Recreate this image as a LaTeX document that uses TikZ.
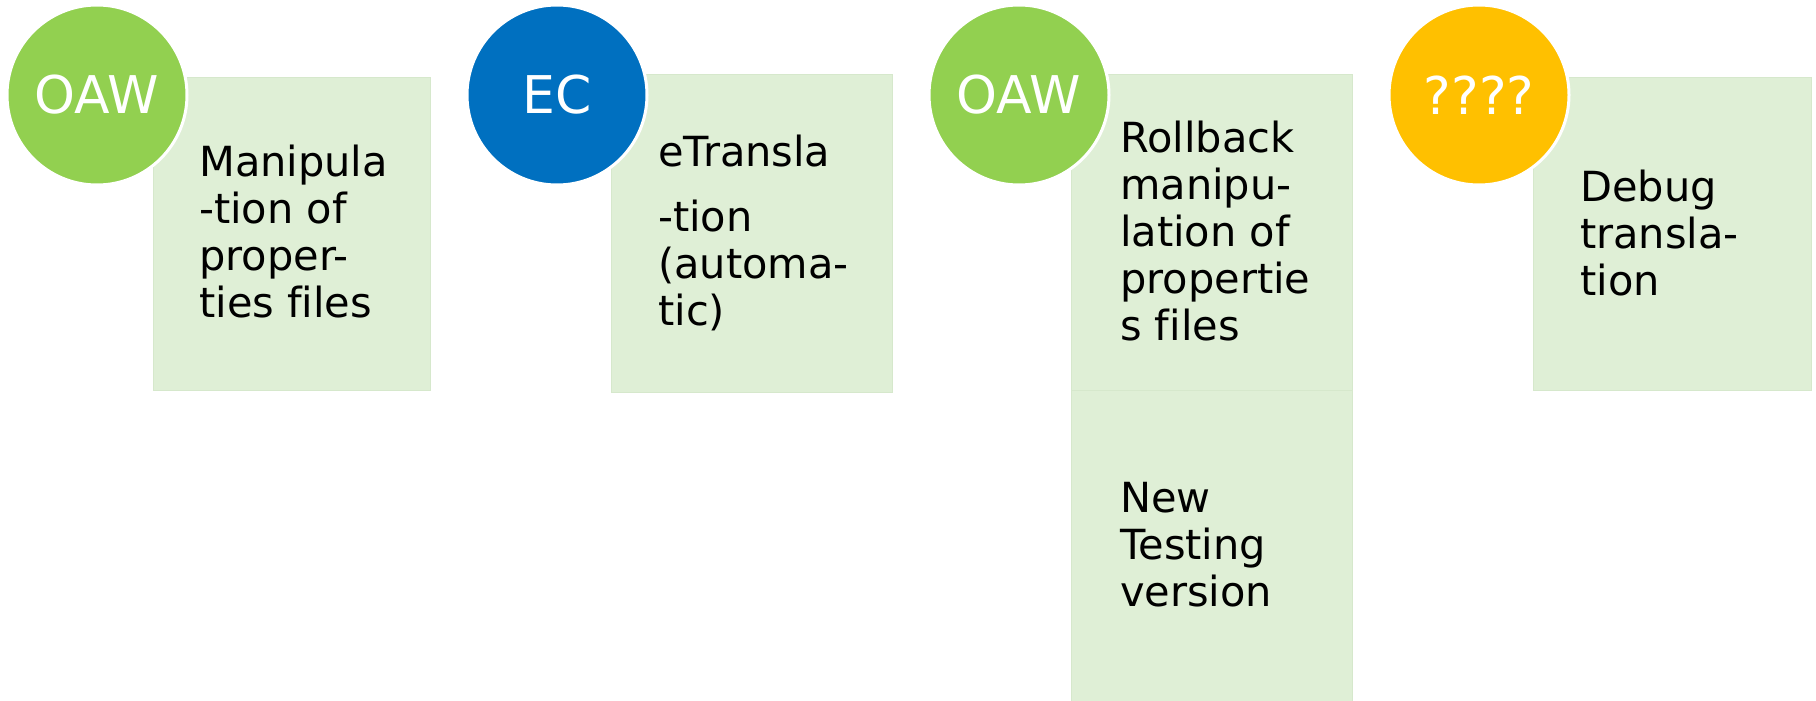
\documentclass[tikz,border=0pt]{standalone}
\usepackage{fontspec}
\setmainfont{DejaVu Sans}[Ligatures=NoCommon]
\usetikzlibrary{positioning}
\definecolor{oawgreen}{RGB}{146,208,80}
\definecolor{ecblue}{RGB}{0,112,192}
\definecolor{gold}{RGB}{255,192,0}
\definecolor{boxgreen}{RGB}{223,239,214}
\definecolor{boxedge}{RGB}{214,232,204}
\tikzset{
  badge/.style={
    circle, draw=white, line width=3pt, minimum size=180pt,
    inner sep=0pt, text=white, font=\fontsize{52}{60}\selectfont
  },
  panel/.style={fill=boxgreen, draw=boxedge, line width=0.8pt},
  blurb/.style={
    anchor=base west, align=left, inner sep=0pt,
    font=\fontsize{41.5}{47}\selectfont
  },
}
\begin{document}
\begin{tikzpicture}[x=1pt, y=-1pt]
  \useasboundingbox (0,0) rectangle (1816,701);

  % boxes behind the badges
  \path[panel] (153,77) rectangle (430,390);
  \path[panel] (611,74) rectangle (892,392);
  \path[panel] (1071,74) rectangle (1352,390);
  \path[panel] (1071,390) rectangle (1352,701);
  \path[panel] (1533,77) rectangle (1811,390);

  % text sits on the baseline of its last line
  \node[blurb] (manip) at (199,317) {Manipula\\-tion of\\proper-\\ties files};
  \node[blurb] (etrans) at (658,325) {eTransla\\[18pt]-tion\\(automa-\\tic)};
  \node[blurb] (rollback) at (1120,340) {Rollback\\manipu-\\lation of\\propertie\\s files};
  \node[blurb] (testing) at (1120,606) {New\\Testing\\version};
  \node[blurb] (debug) at (1580,295) {Debug\\transla-\\tion};

  \node[badge, fill=oawgreen] (oaw1) at (97,95) {OAW};
  \node[badge, fill=ecblue] (ec) at (557,95) {EC};
  \node[badge, fill=oawgreen] (oaw2) at (1019,95) {OAW};
  \node[badge, fill=gold] (unknown) at (1479,95) {????};
\end{tikzpicture}
\end{document}
